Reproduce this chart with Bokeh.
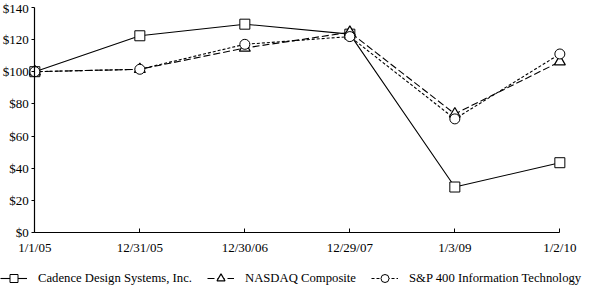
from bokeh.plotting import figure
from bokeh.models import Range1d, FixedTicker, PrintfTickFormatter, Legend, LegendItem
from bokeh.embed import file_html
from bokeh.resources import INLINE

dates = ["1/1/05", "12/31/05", "12/30/06", "12/29/07", "1/3/09", "1/2/10"]
cadence = [100, 122.3, 129.5, 123.3, 28.4, 43.5]
nasdaq = [100, 101.5, 114.7, 124.5, 73.8, 106.2]
sp400it = [100, 101.5, 117.0, 121.8, 70.7, 111.0]
y_ticks = [0, 20, 40, 60, 80, 100, 120, 140]

FONT = "Liberation Serif"
xs = list(range(len(dates)))
n = len(dates) - 1

# frame covers the whole canvas; axes are pinned at x=0 / y=0
p = figure(width=592, height=293, output_backend="svg", toolbar_location=None,
           x_range=Range1d(-0.327, n + 0.311), y_range=Range1d(-37.7, 144.2),
           min_border=0)
p.outline_line_color = None
p.grid.visible = False
p.background_fill_color = "white"
p.border_fill_color = "white"

p.xaxis.fixed_location = 0
p.yaxis.fixed_location = 0
p.xaxis.bounds = (0, n)
p.yaxis.bounds = (0, 140)

p.xaxis.ticker = FixedTicker(ticks=xs)
p.xaxis.major_label_overrides = {i: d for i, d in enumerate(dates)}
p.xaxis.major_tick_in = 4
p.xaxis.major_tick_out = 0
p.xaxis.minor_tick_line_color = None
p.xaxis.major_label_standoff = 7
p.yaxis.ticker = FixedTicker(ticks=y_ticks)
p.yaxis.formatter = PrintfTickFormatter(format="$%d")
p.yaxis.major_tick_in = 0
p.yaxis.major_tick_out = 3
p.yaxis.minor_tick_line_color = None
p.yaxis.major_label_standoff = 3
for ax in (p.xaxis, p.yaxis):
    ax.axis_line_color = "black"
    ax.axis_line_width = 1.2
    ax.major_tick_line_color = "black"
    ax.major_label_text_font = FONT
    ax.major_label_text_font_size = "13px"
    ax.major_label_text_color = "black"

# series
l1 = p.line(xs, cadence, line_color="black", line_width=1.1)
m1 = p.scatter(xs, cadence, marker="square", size=10, fill_color="white",
               line_color="black", line_width=1)
l2 = p.line(xs, nasdaq, line_color="black", line_width=1.1, line_dash="7 3")
m2 = p.scatter(xs, nasdaq, marker="triangle", size=11, fill_color="white",
               line_color="black", line_width=1.2)
l3 = p.line(xs, sp400it, line_color="black", line_width=1.1, line_dash="3 2")
m3 = p.scatter(xs, sp400it, marker="circle", size=10, fill_color="white",
               line_color="black", line_width=1)

legend = Legend(items=[
    LegendItem(label="Cadence Design Systems, Inc.", renderers=[l1, m1]),
    LegendItem(label="NASDAQ Composite", renderers=[l2, m2]),
    LegendItem(label="S&P 400 Information Technology", renderers=[l3, m3]),
], orientation="horizontal", location=(0, 5))
legend.border_line_color = None
legend.background_fill_alpha = 0
legend.padding = 0
legend.margin = 0
legend.spacing = 15
legend.glyph_width = 27
legend.glyph_height = 20
legend.label_height = 20
legend.label_standoff = 11
legend.label_text_font = FONT
legend.label_text_font_size = "12.7px"
legend.label_text_color = "black"
p.add_layout(legend, "center")

open("out.html", "w").write(file_html(p, INLINE))
